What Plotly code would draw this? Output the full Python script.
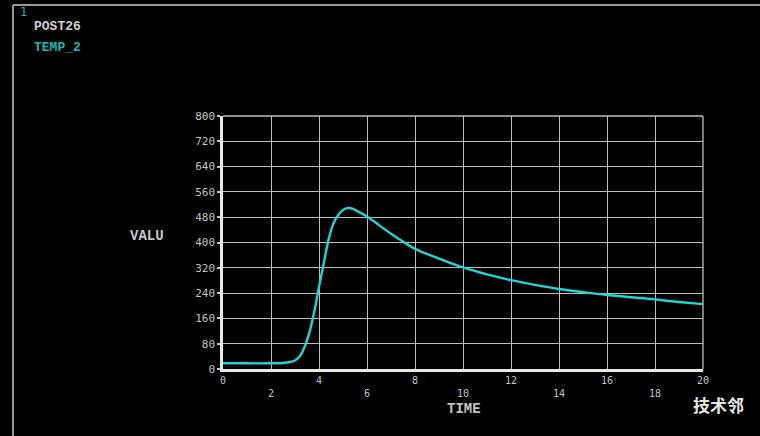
import plotly.graph_objects as go

# ---- data ----
time_vals = [0, 1, 2, 2.5, 2.8, 3.0, 3.2, 3.4, 3.6, 3.8, 4.0, 4.2, 4.4, 4.6, 4.8,
             5.0, 5.2, 5.4, 5.6, 6.0, 6.5, 7.0, 7.5, 8, 9, 10, 11, 12, 13, 14,
             15, 16, 17, 18, 19, 20]
temp_vals = [18, 18, 18, 19, 22, 27, 40, 70, 115, 180, 260, 335, 410, 460, 487,
             503, 509, 507, 499, 482, 455, 428, 403, 380, 349, 321, 299, 281, 266, 253,
             243, 234, 227, 220, 212, 205]
x_ticks = [0, 2, 4, 6, 8, 10, 12, 14, 16, 18, 20]
y_ticks = [0, 80, 160, 240, 320, 400, 480, 560, 640, 720, 800]
x_tick_text = [str(v) if i % 2 == 0 else "<br>" + str(v) for i, v in enumerate(x_ticks)]

W, H = 760, 436
L, R, T, B = 223, 703, 116, 369


def px(xp):
    return (xp - L) / (R - L)


def py(yp):
    return (B - yp) / (B - T)


MONO = "DejaVu Sans Mono"
SERIF_MONO = "Liberation Mono"
GRID = "#bdbdbd"
TXT = "#c4c4c4"
TEAL = "#22b4b4"

fig = go.Figure()
fig.add_trace(go.Scatter(x=time_vals, y=temp_vals, mode="lines",
                         line=dict(color="#22d4d4", width=2.4, shape="spline", smoothing=0.8),
                         hoverinfo="skip", showlegend=False))

fig.update_layout(
    width=W, height=H,
    margin=dict(l=L, r=W - R, t=T, b=H - B),
    paper_bgcolor="#000000", plot_bgcolor="#000000",
    font=dict(family=MONO, color=TXT),
    xaxis=dict(range=[0, 20], tickvals=x_ticks, ticktext=x_tick_text,
               showgrid=True, gridcolor=GRID, gridwidth=1.3,
               zeroline=False, showline=True, linecolor="#e8e8e8", linewidth=2.5,
               ticks="", tickfont=dict(family=MONO, size=10, color=TXT),
               fixedrange=True),
    yaxis=dict(range=[0, 800], tickvals=y_ticks,
               showgrid=True, gridcolor=GRID, gridwidth=1.3,
               zeroline=False, showline=True, linecolor="#e8e8e8", linewidth=2.5,
               ticks="outside", ticklen=3, tickcolor=TXT, tickwidth=1.5,
               tickfont=dict(family=MONO, size=11, color=TXT),
               fixedrange=True),
    shapes=[
        dict(type="line", xref="paper", yref="paper",
             x0=px(13), x1=px(760), y0=py(5), y1=py(5),
             line=dict(color="#9a9a9a", width=2)),
        dict(type="line", xref="paper", yref="paper",
             x0=px(13), x1=px(13), y0=py(5), y1=py(436),
             line=dict(color="#9a9a9a", width=2)),
        dict(type="line", xref="paper", yref="paper",
             x0=1, x1=1, y0=0, y1=1, line=dict(color=GRID, width=1.3)),
        dict(type="line", xref="paper", yref="paper",
             x0=0, x1=1, y0=1, y1=1, line=dict(color=GRID, width=1.3)),
    ],
    annotations=[
        dict(text="1", xref="paper", yref="paper", x=px(18), y=py(12),
             xanchor="left", yanchor="middle", showarrow=False,
             font=dict(family=MONO, size=12, color=TEAL)),
        dict(text="<b>POST26</b>", xref="paper", yref="paper", x=px(32), y=py(26),
             xanchor="left", yanchor="middle", showarrow=False,
             font=dict(family=SERIF_MONO, size=13, color="#cfcfcf")),
        dict(text="<b>TEMP_2</b>", xref="paper", yref="paper", x=px(32), y=py(47),
             xanchor="left", yanchor="middle", showarrow=False,
             font=dict(family=SERIF_MONO, size=13, color=TEAL)),
        dict(text="<b>VALU</b>", xref="paper", yref="paper", x=px(147), y=py(236),
             xanchor="center", yanchor="middle", showarrow=False,
             font=dict(family=SERIF_MONO, size=14, color=TXT)),
        dict(text="<b>TIME</b>", xref="paper", yref="paper", x=px(464), y=py(409),
             xanchor="center", yanchor="middle", showarrow=False,
             font=dict(family=SERIF_MONO, size=14, color=TXT)),
        dict(text="<b>技术邻</b>", xref="paper", yref="paper", x=px(718), y=py(404),
             xanchor="center", yanchor="middle", showarrow=False,
             font=dict(family="Noto Sans CJK SC", size=17, color="#e6e6e6")),
    ],
)

fig.write_html("out.html",
               config={"displayModeBar": False},
               post_script="document.body.style.margin='0';document.body.style.overflow='hidden';")
